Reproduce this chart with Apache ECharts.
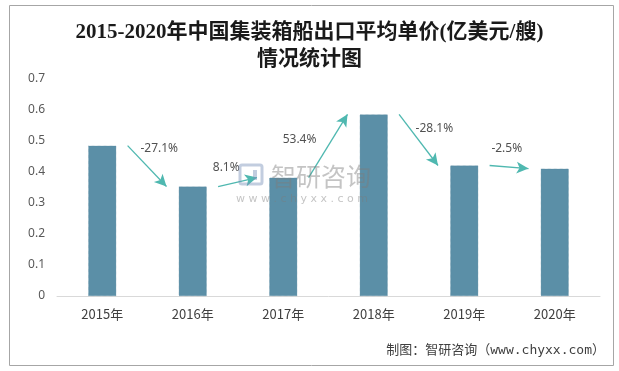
<!DOCTYPE html>
<html>
<head>
<meta charset="utf-8">
<script src="https://cdn.jsdelivr.net/npm/echarts@6/dist/echarts.min.js"></script>
<style>html,body{margin:0;padding:0;background:#fff;}#c{width:619px;height:371px;}</style>
</head>
<body>
<div id="c"></div>
<script>
// ---- data ----
var categories = ['2015年', '2016年', '2017年', '2018年', '2019年', '2020年'];
var unitPrice = [0.485, 0.353, 0.382, 0.586, 0.421, 0.411];
var growthLabels = ['-27.1%', '8.1%', '53.4%', '-28.1%', '-2.5%'];
var yTicks = [0, 0.1, 0.2, 0.3, 0.4, 0.5, 0.6, 0.7];

// ---- annotation layout (axis units) ----
var arrowStartDx = 0.28, arrowEndDx = 0.71;
var labelDx = [0.63, 0.37, 0.18, 0.67, 0.47];
var labelY = [0.477, 0.413, 0.503, 0.539, 0.474];

var arrows = [];
var labelPts = [];
for (var i = 0; i < growthLabels.length; i++) {
  arrows.push([{coord: [i + arrowStartDx, unitPrice[i]]}, {coord: [i + arrowEndDx, unitPrice[i + 1]]}]);
  labelPts.push({value: [i + labelDx[i], labelY[i]], name: growthLabels[i]});
}

var wmColor = 'rgba(125,125,125,0.45)';
var wmBlue = 'rgba(120,145,185,0.45)';

var chart = echarts.init(document.getElementById('c'), null, {renderer: 'canvas'});
chart.setOption({
  backgroundColor: '#fff',
  animation: false,
  title: {
    text: '2015-2020年中国集装箱船出口平均单价(亿美元/艘)\n情况统计图',
    left: 'center',
    top: 14,
    textStyle: {
      fontFamily: '"Liberation Serif","Noto Sans CJK SC",serif',
      fontSize: 21,
      fontWeight: 'bold',
      color: '#1a1a1a',
      lineHeight: 27
    }
  },
  grid: {left: 57, right: 19, top: 79, bottom: 75, containLabel: false},
  xAxis: [{
    type: 'category',
    data: categories,
    axisLine: {lineStyle: {color: '#d9d9d9', width: 1}},
    axisTick: {show: false},
    axisLabel: {color: '#404040', fontSize: 13, margin: 12, fontFamily: '"Noto Sans CJK SC",sans-serif'}
  }, {
    type: 'value', min: -0.5, max: 5.5, show: false
  }],
  yAxis: {
    type: 'value',
    min: yTicks[0],
    max: yTicks[yTicks.length - 1],
    interval: 0.1,
    axisLine: {show: false},
    axisTick: {show: false},
    splitLine: {show: false},
    axisLabel: {color: '#595959', fontSize: 12, margin: 12, fontFamily: '"Noto Sans","DejaVu Sans",sans-serif'}
  },
  series: [{
    type: 'bar',
    data: unitPrice,
    barWidth: 28,
    itemStyle: {color: '#5b8fa7', borderColor: '#55869d', borderWidth: 0.6, borderType: 'dotted'}
  }, {
    type: 'scatter',
    xAxisIndex: 1,
    yAxisIndex: 0,
    data: labelPts,
    symbolSize: 1,
    itemStyle: {color: 'rgba(0,0,0,0)'},
    z: 5,
    label: {
      show: true,
      position: 'inside',
      formatter: function (p) { return p.name; },
      color: '#262626',
      fontSize: 12,
      fontFamily: '"Noto Sans","DejaVu Sans",sans-serif'
    },
    markLine: {
      silent: true,
      symbol: ['none', 'arrow'],
      symbolSize: [9, 12],
      label: {show: false},
      lineStyle: {color: '#4fb8b0', width: 1.3, type: 'solid'},
      data: arrows
    }
  }],
  graphic: [{
    type: 'rect',
    shape: {x: 9.5, y: 5.5, width: 604, height: 360},
    style: {fill: 'none', stroke: '#a6a6a6', lineWidth: 1},
    silent: true
  }, {
    type: 'text',
    x: 605, y: 351,
    style: {
      text: '制图：智研咨询（www.chyxx.com）',
      font: '13px "DejaVu Sans Mono","Noto Sans CJK SC",monospace',
      fill: '#404040',
      align: 'right',
      verticalAlign: 'middle'
    }
  }, {
    type: 'rect', x: 240, y: 165, z: 100, silent: true,
    shape: {x: 0, y: 0, width: 22, height: 19, r: 2},
    style: {fill: 'none', stroke: wmBlue, lineWidth: 3}
  }, {
    type: 'rect', x: 240, y: 165, z: 100, silent: true,
    shape: {x: 13, y: 5, width: 4, height: 10},
    style: {fill: wmBlue}
  }, {
    type: 'text', x: 271, y: 176, z: 100, silent: true,
    style: {text: '智研咨询', font: '25px "Noto Sans CJK SC",sans-serif', fill: wmColor, verticalAlign: 'middle', align: 'left'}
  }, {
    type: 'text', x: 236, y: 199, z: 100, silent: true,
    style: {text: 'w w w . c h y x x . c o m', font: '11px "DejaVu Sans",sans-serif', fill: wmColor, verticalAlign: 'middle', align: 'left'}
  }]
});
</script>
</body>
</html>
